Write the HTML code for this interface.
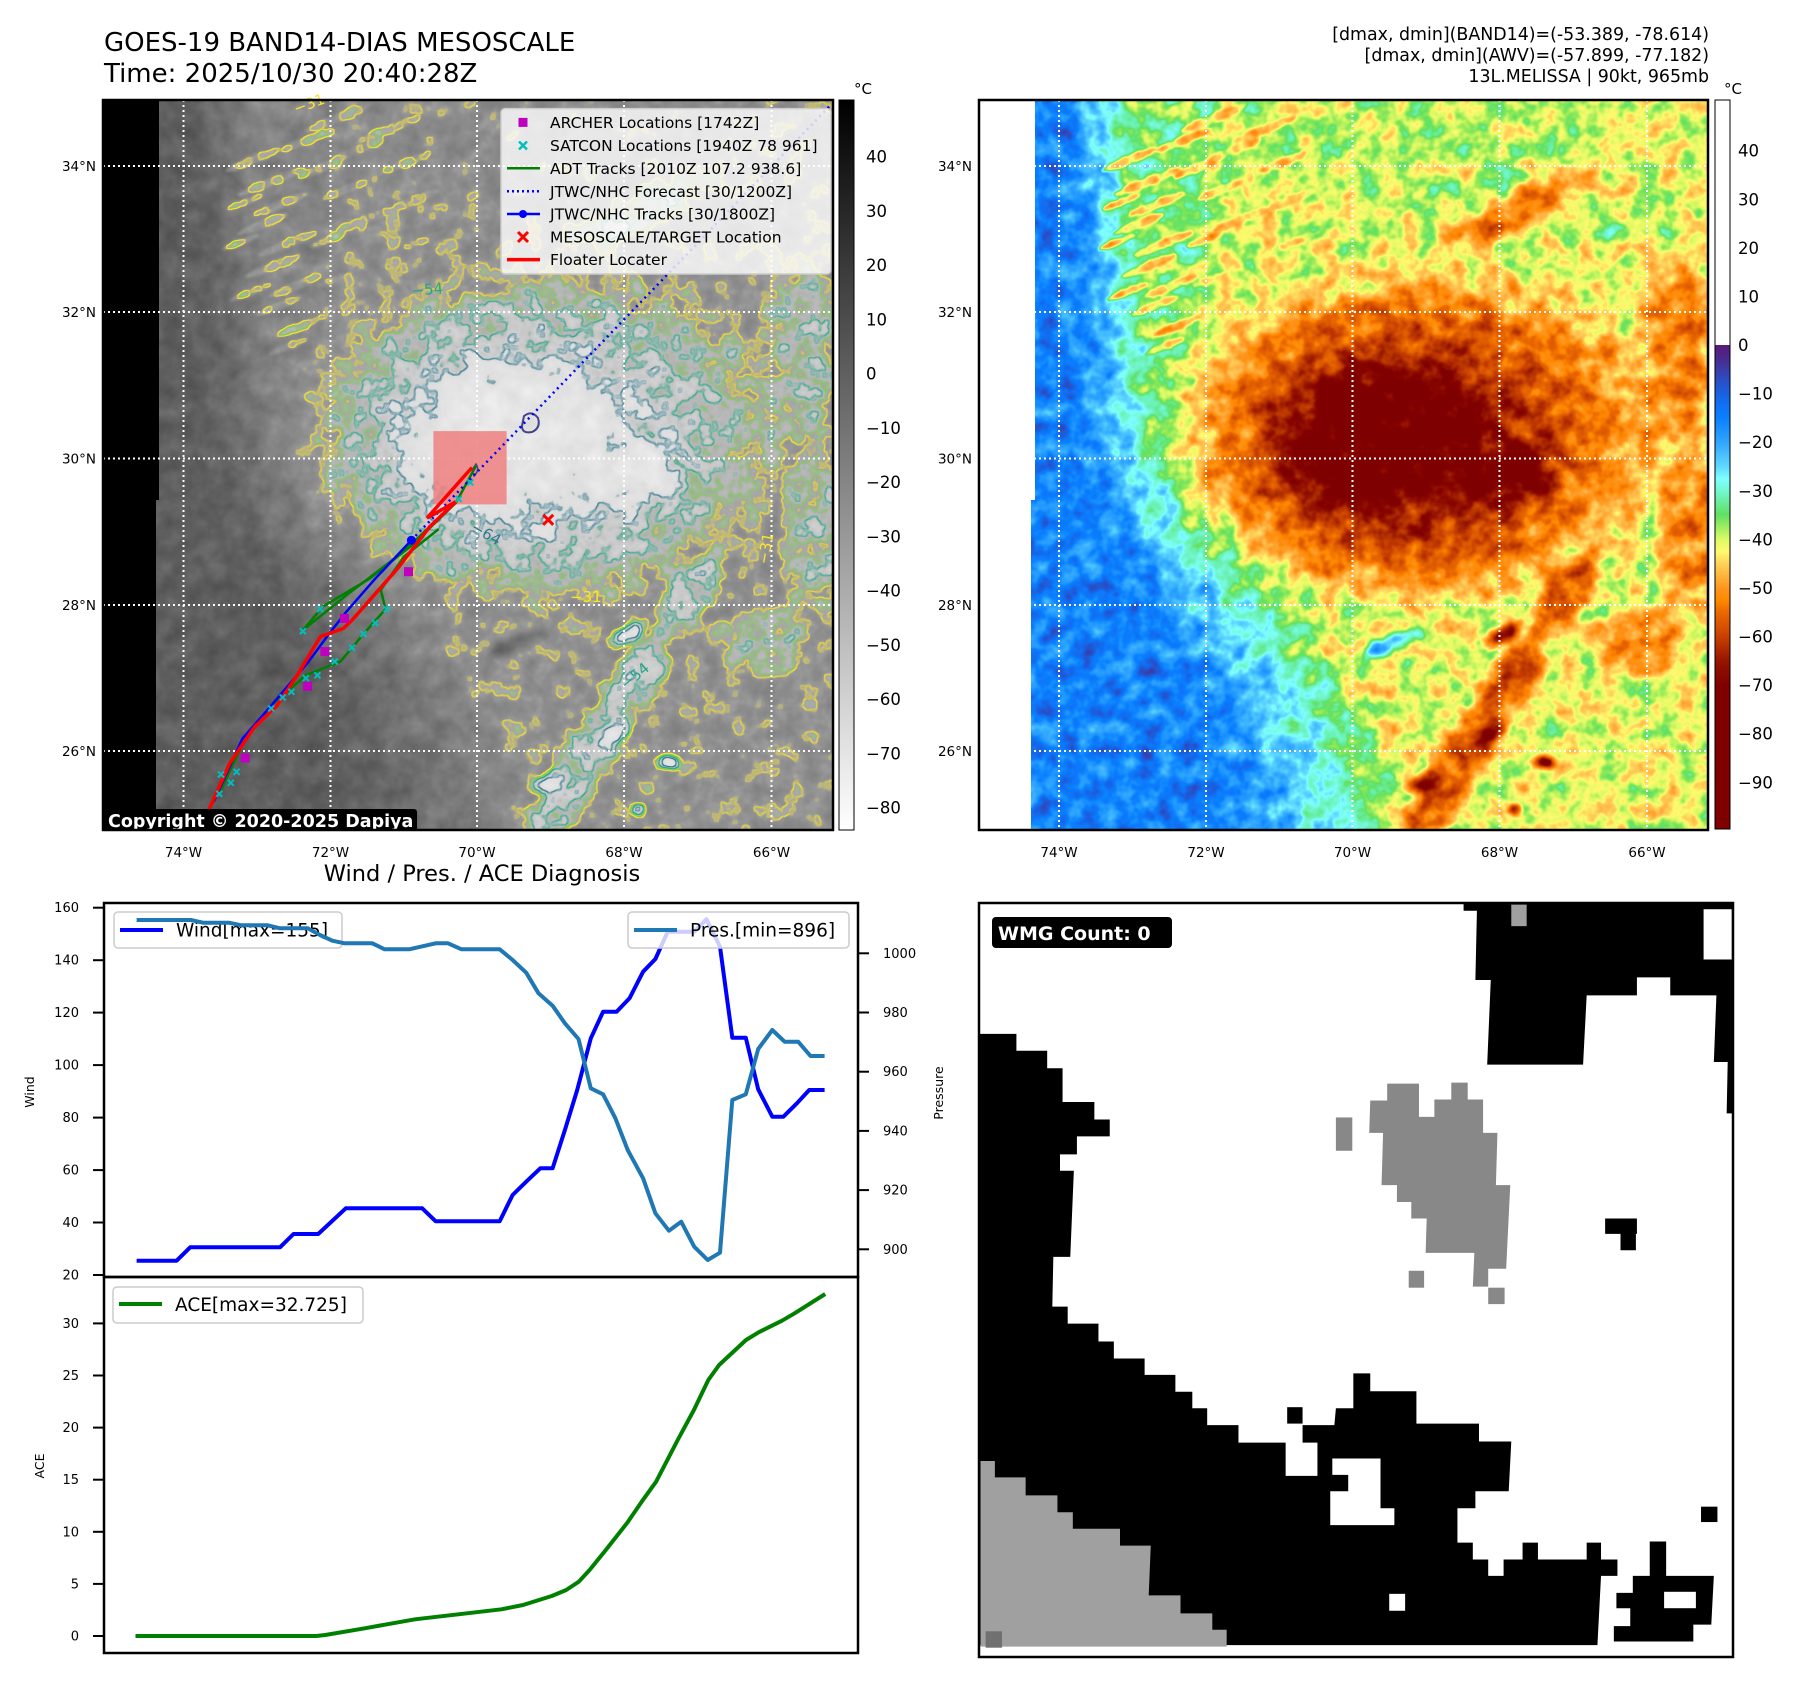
<!DOCTYPE html>
<html><head><meta charset="utf-8"><style>
html,body{margin:0;padding:0;background:#fff;}
svg{display:block;}
text{font-family:"DejaVu Sans","Liberation Sans",sans-serif;}
</style></head><body>
<svg width="1797" height="1690" viewBox="0 0 1797 1690" xmlns="http://www.w3.org/2000/svg">
<defs>
<clipPath id="clipMap" clipPathUnits="userSpaceOnUse"><rect x="0" y="0" width="730" height="730"/></clipPath>
<clipPath id="clipM1abs" clipPathUnits="userSpaceOnUse"><rect x="103" y="100" width="730" height="730"/></clipPath>
<filter id="bl" filterUnits="userSpaceOnUse" x="-80" y="-80" width="900" height="900" color-interpolation-filters="sRGB"><feGaussianBlur stdDeviation="12"/></filter>
<radialGradient id="gRing"><stop offset="0.7" stop-color="#9e9e9e"/><stop offset="1" stop-color="#9e9e9e" stop-opacity="0"/></radialGradient>
<radialGradient id="gDO"><stop offset="0.6" stop-color="#b0b0b0"/><stop offset="1" stop-color="#b0b0b0" stop-opacity="0"/></radialGradient>
<radialGradient id="gRB"><stop offset="0.55" stop-color="#bdbdbd"/><stop offset="1" stop-color="#bdbdbd" stop-opacity="0"/></radialGradient>
<radialGradient id="gDR"><stop offset="0.5" stop-color="#d6d6d6"/><stop offset="1" stop-color="#d6d6d6" stop-opacity="0"/></radialGradient>
<radialGradient id="gLobe"><stop offset="0.5" stop-color="#d1d1d1"/><stop offset="1" stop-color="#d1d1d1" stop-opacity="0"/></radialGradient>
<radialGradient id="gSp"><stop offset="0.4" stop-color="#adadad"/><stop offset="1" stop-color="#adadad" stop-opacity="0"/></radialGradient>
<radialGradient id="gSpD"><stop offset="0.3" stop-color="#c2c2c2"/><stop offset="1" stop-color="#c2c2c2" stop-opacity="0"/></radialGradient>
<radialGradient id="gCr"><stop offset="0.45" stop-color="#9e9e9e"/><stop offset="1" stop-color="#9e9e9e" stop-opacity="0"/></radialGradient>
<radialGradient id="gNE"><stop offset="0.4" stop-color="#a1a1a1"/><stop offset="1" stop-color="#a1a1a1" stop-opacity="0"/></radialGradient>
<radialGradient id="gGr"><stop offset="0.3" stop-color="#757575"/><stop offset="1" stop-color="#757575" stop-opacity="0"/></radialGradient>
<radialGradient id="gBl"><stop offset="0.3" stop-color="#525252"/><stop offset="1" stop-color="#525252" stop-opacity="0"/></radialGradient>

<g id="field">
<g filter="url(#bl)">
<rect x="-60" y="-60" width="850" height="850" fill="#737373"/>
<polygon fill="#838383" points="250,-60 800,-60 800,800 430,800 400,651 360,580 320,505 215,400 200,300 215,200 245,100"/>
<ellipse cx="420" cy="40" rx="200" ry="70" fill="#7d7d7d"/>
<polygon fill="#616161" points="-60,-60 135,-60 150,200 170,350 205,430 275,505 330,580 360,651 390,800 -60,800"/>
<polygon fill="#4f4f4f" points="-60,-60 118,-60 128,200 140,350 170,430 230,505 280,580 310,651 340,800 -60,800"/>
<polygon fill="#404040" points="-60,-60 100,-60 108,200 115,350 140,430 190,505 230,580 262,651 290,800 -60,800"/>
</g>
<ellipse cx="519" cy="82" rx="38" ry="20" fill="url(#gGr)"/>
<ellipse cx="617" cy="132" rx="35" ry="18" fill="url(#gGr)"/>
<ellipse cx="669" cy="104" rx="30" ry="18" fill="url(#gGr)"/>
<ellipse cx="540" cy="110" rx="110" ry="24" transform="rotate(-28 540 110)" fill="url(#gNE)"/>
<ellipse cx="700" cy="250" rx="55" ry="120" fill="url(#gCr)"/>
<ellipse cx="715" cy="430" rx="45" ry="110" fill="url(#gCr)"/>
<ellipse cx="660" cy="540" rx="55" ry="40" fill="url(#gCr)"/>
<ellipse cx="445" cy="335" rx="265" ry="180" fill="url(#gRing)"/>
<ellipse cx="585" cy="495" rx="60" ry="28" transform="rotate(-55 585 495)" fill="url(#gSp)"/>
<ellipse cx="535" cy="578" rx="70" ry="30" transform="rotate(-55 535 578)" fill="url(#gSp)"/>
<ellipse cx="488" cy="650" rx="70" ry="30" transform="rotate(-50 488 650)" fill="url(#gSp)"/>
<ellipse cx="452" cy="712" rx="60" ry="25" transform="rotate(-45 452 712)" fill="url(#gSp)"/>
<ellipse cx="525" cy="535" rx="28" ry="12" transform="rotate(-30 525 535)" fill="url(#gSpD)"/>
<ellipse cx="510" cy="632" rx="30" ry="12" transform="rotate(-30 510 632)" fill="url(#gSpD)"/>
<ellipse cx="450" cy="680" rx="28" ry="14" transform="rotate(-30 450 680)" fill="url(#gSpD)"/>
<ellipse cx="565" cy="662" rx="16" ry="9" fill="url(#gSpD)"/>
<ellipse cx="536" cy="710" rx="10" ry="8" fill="url(#gSpD)"/>
<ellipse cx="410" cy="545" rx="42" ry="12" transform="rotate(-20 410 545)" fill="url(#gBl)"/>
<ellipse cx="430" cy="340" rx="210" ry="155" fill="url(#gDO)"/>
<ellipse cx="430" cy="345" rx="165" ry="120" fill="url(#gRB)"/>
<ellipse cx="395" cy="338" rx="110" ry="85" fill="url(#gDR)"/>
<ellipse cx="460" cy="330" rx="60" ry="60" fill="url(#gLobe)"/>
<ellipse cx="525" cy="372" rx="60" ry="40" fill="url(#gLobe)"/>
<g fill="#949494" opacity="0.85">
<ellipse cx="150" cy="60" rx="30" ry="4.5" transform="rotate(-22 150 60)"/>
<ellipse cx="168" cy="82" rx="36" ry="4.5" transform="rotate(-22 168 82)"/>
<ellipse cx="178" cy="104" rx="30" ry="4.5" transform="rotate(-22 178 104)"/>
<ellipse cx="160" cy="124" rx="28" ry="4.5" transform="rotate(-22 160 124)"/>
<ellipse cx="184" cy="144" rx="32" ry="4.5" transform="rotate(-22 184 144)"/>
<ellipse cx="170" cy="166" rx="30" ry="4.5" transform="rotate(-22 170 166)"/>
<ellipse cx="192" cy="186" rx="28" ry="4.5" transform="rotate(-22 192 186)"/>
<ellipse cx="176" cy="206" rx="25" ry="4" transform="rotate(-22 176 206)"/>
<ellipse cx="198" cy="226" rx="25" ry="4" transform="rotate(-22 198 226)"/>
<ellipse cx="186" cy="246" rx="22" ry="3.5" transform="rotate(-22 186 246)"/>
<ellipse cx="205" cy="40" rx="30" ry="4.5" transform="rotate(-22 205 40)"/>
<ellipse cx="235" cy="18" rx="36" ry="5" transform="rotate(-22 235 18)"/>
<ellipse cx="255" cy="50" rx="30" ry="4.5" transform="rotate(-22 255 50)"/>
<ellipse cx="242" cy="90" rx="25" ry="4.5" transform="rotate(-22 242 90)"/>
<ellipse cx="262" cy="120" rx="30" ry="4.5" transform="rotate(-22 262 120)"/>
<ellipse cx="218" cy="68" rx="25" ry="4.5" transform="rotate(-22 218 68)"/>
<ellipse cx="138" cy="142" rx="20" ry="3.5" transform="rotate(-22 138 142)"/>
<ellipse cx="148" cy="192" rx="22" ry="3.5" transform="rotate(-22 148 192)"/>
<ellipse cx="285" cy="30" rx="35" ry="4.5" transform="rotate(-22 285 30)"/>
<ellipse cx="305" cy="62" rx="25" ry="4.5" transform="rotate(-22 305 62)"/>
<ellipse cx="312" cy="100" rx="25" ry="4.5" transform="rotate(-22 312 100)"/>
<ellipse cx="142" cy="102" rx="20" ry="3.5" transform="rotate(-22 142 102)"/>
<ellipse cx="225" cy="140" rx="20" ry="3.5" transform="rotate(-22 225 140)"/>
<ellipse cx="230" cy="180" rx="18" ry="3.5" transform="rotate(-22 230 180)"/>
<ellipse cx="320" cy="140" rx="22" ry="3.5" transform="rotate(-22 320 140)"/>
</g>
</g>

<filter id="fC" filterUnits="userSpaceOnUse" x="-60" y="-60" width="850" height="850" color-interpolation-filters="sRGB">
<feGaussianBlur in="SourceGraphic" stdDeviation="1.2" result="b"/>
<feTurbulence type="fractalNoise" baseFrequency="0.05" numOctaves="3" seed="5" result="t"/>
<feColorMatrix in="t" type="matrix" values="1 0 0 0 0 1 0 0 0 0 1 0 0 0 0 0 0 0 0 1" result="tn"/>
<feComposite in="b" in2="tn" operator="arithmetic" k1="0" k2="1" k3="0.25" k4="-0.125" result="f"/>
<feComponentTransfer in="f">
<feFuncR type="table" tableValues="1 1 1 1 .35 .29 .24 .16 .10 .06 .04 .12 .19 .27 .38 .50 .45 .41 .38 .59 .86 1 1 1 1 1 .92 .86 .78 .69 .59 .53 .50 .50 .50 .50 .50 .50 .50 .50 .50"/>
<feFuncG type="table" tableValues="1 1 1 1 .10 .16 .24 .31 .38 .45 .50 .59 .65 .75 .85 1 .97 .94 .88 .92 .98 .98 .82 .71 .59 .53 .41 .35 .25 .18 .08 .02 0 0 0 0 0 0 0 0 0"/>
<feFuncB type="table" tableValues="1 1 1 1 .47 .55 .65 .78 .88 .96 1 1 1 1 1 1 .82 .67 .38 .35 .39 .43 .35 .27 .12 0 0 0 0 0 0 0 0 0 0 0 0 0 0 0 0"/>
</feComponentTransfer>
</filter>

<filter id="fG" filterUnits="userSpaceOnUse" x="-60" y="-60" width="850" height="850" color-interpolation-filters="sRGB">
<feGaussianBlur in="SourceGraphic" stdDeviation="1.2" result="b"/>
<feTurbulence type="fractalNoise" baseFrequency="0.05" numOctaves="3" seed="5" result="t"/>
<feColorMatrix in="t" type="matrix" values="1 0 0 0 0 1 0 0 0 0 1 0 0 0 0 0 0 0 0 1" result="tn"/>
<feComposite in="b" in2="tn" operator="arithmetic" k1="0" k2="1" k3="0.25" k4="-0.125" result="f"/>
<feComponentTransfer in="f" result="g">
<feFuncR type="table" tableValues="0.22 0.37 0.56 0.87 0.97"/>
<feFuncG type="table" tableValues="0.22 0.37 0.56 0.87 0.97"/>
<feFuncB type="table" tableValues="0.22 0.37 0.56 0.87 0.97"/>
</feComponentTransfer>
<feColorMatrix in="f" type="matrix" values="0 0 0 0 0 0 0 0 0 0 0 0 0 0 0 1 0 0 0 0" result="fa"/>
<feComponentTransfer in="fa" result="m1"><feFuncA type="linear" slope="40" intercept="-21.8"/></feComponentTransfer>
<feMorphology in="m1" operator="dilate" radius="1" result="d1"/>
<feComposite in="d1" in2="m1" operator="out" result="e1"/>
<feFlood flood-color="#fde725"/>
<feComposite in2="e1" operator="in" result="l1"/>
<feComponentTransfer in="fa" result="m2"><feFuncA type="linear" slope="40" intercept="-23.6"/></feComponentTransfer>
<feMorphology in="m2" operator="dilate" radius="1" result="d2"/>
<feComposite in="d2" in2="m2" operator="out" result="e2"/>
<feFlood flood-color="#7ad151"/>
<feComposite in2="e2" operator="in" result="l2"/>
<feComponentTransfer in="fa" result="m3"><feFuncA type="linear" slope="40" intercept="-25.8"/></feComponentTransfer>
<feMorphology in="m3" operator="dilate" radius="1" result="d3"/>
<feComposite in="d3" in2="m3" operator="out" result="e3"/>
<feFlood flood-color="#22a884"/>
<feComposite in2="e3" operator="in" result="l3"/>
<feComponentTransfer in="fa" result="m4"><feFuncA type="linear" slope="40" intercept="-28.8"/></feComponentTransfer>
<feMorphology in="m4" operator="dilate" radius="1" result="d4"/>
<feComposite in="d4" in2="m4" operator="out" result="e4"/>
<feFlood flood-color="#2a788e"/>
<feComposite in2="e4" operator="in" result="l4"/>
<feMerge><feMergeNode in="g"/><feMergeNode in="l1"/><feMergeNode in="l2"/><feMergeNode in="l3"/><feMergeNode in="l4"/></feMerge>
</filter>

<linearGradient id="cb1" x1="0" y1="0" x2="0" y2="1"><stop offset="0" stop-color="#000"/><stop offset="1" stop-color="#fff"/></linearGradient>
<linearGradient id="cb2" x1="0" y1="0" x2="0" y2="1">
<stop offset="0" stop-color="#5a1a78"/><stop offset="0.025" stop-color="#4b288c"/><stop offset="0.05" stop-color="#3c3ca5"/><stop offset="0.075" stop-color="#2850c8"/><stop offset="0.1" stop-color="#1a60e0"/><stop offset="0.126" stop-color="#0f73f5"/><stop offset="0.151" stop-color="#0a80ff"/><stop offset="0.201" stop-color="#30a5ff"/><stop offset="0.251" stop-color="#60d8ff"/><stop offset="0.276" stop-color="#80ffff"/><stop offset="0.301" stop-color="#73f8d2"/><stop offset="0.351" stop-color="#60e060"/><stop offset="0.402" stop-color="#dcfa64"/><stop offset="0.427" stop-color="#fffa6e"/><stop offset="0.452" stop-color="#ffd25a"/><stop offset="0.502" stop-color="#ff961e"/><stop offset="0.527" stop-color="#ff8800"/><stop offset="0.552" stop-color="#eb6900"/><stop offset="0.602" stop-color="#c84100"/><stop offset="0.653" stop-color="#961400"/><stop offset="0.703" stop-color="#800000"/><stop offset="1" stop-color="#800000"/>
</linearGradient>
</defs>

<rect x="0" y="0" width="1797" height="1690" fill="#fff"/>

<!-- Titles -->
<text x="104" y="51" font-size="26" fill="#000">GOES-19 BAND14-DIAS MESOSCALE</text>
<text x="104" y="82" font-size="26" fill="#000">Time: 2025/10/30 20:40:28Z</text>
<g font-size="17.4" fill="#000" text-anchor="end">
<text x="1709" y="40">[dmax, dmin](BAND14)=(-53.389, -78.614)</text>
<text x="1709" y="61">[dmax, dmin](AWV)=(-57.899, -77.182)</text>
<text x="1709" y="82">13L.MELISSA | 90kt, 965mb</text>
</g>

<!-- MAP 1 -->
<g transform="translate(103 100)">
<g clip-path="url(#clipMap)">
<g filter="url(#fG)"><use href="#field"/></g>
<polygon points="0,0 56,0 56,400 53,400 53,730 0,730" fill="#000"/>
</g>
</g>
<g stroke="#fff" stroke-width="2" stroke-dasharray="2 3" fill="none">
<line x1="103" y1="166" x2="833" y2="166"/><line x1="103" y1="312" x2="833" y2="312"/><line x1="103" y1="458.5" x2="833" y2="458.5"/><line x1="103" y1="605" x2="833" y2="605"/><line x1="103" y1="751" x2="833" y2="751"/>
<line x1="183.5" y1="100" x2="183.5" y2="830"/><line x1="330.5" y1="100" x2="330.5" y2="830"/><line x1="477" y1="100" x2="477" y2="830"/><line x1="624" y1="100" x2="624" y2="830"/><line x1="771.5" y1="100" x2="771.5" y2="830"/>
</g>
<g font-size="15" >
<text x="412" y="296" fill="#22a884" transform="rotate(-5 412 296)">−54</text>
<text x="470" y="530" fill="#2a788e" transform="rotate(30 470 530)">−64</text>
<text x="570" y="602" fill="#fde725">−31</text>
<text x="296" y="114" fill="#fde725" transform="rotate(-20 296 114)">−31</text>
<text x="768" y="565" fill="#fde725" transform="rotate(-80 768 565)">−31</text>
<text x="626" y="690" fill="#22a884" transform="rotate(-40 626 690)">−54</text>
</g>
<g clip-path="url(#clipM1abs)">
<path d="M524,416 q8,-6 14,2 q3,10 -6,14 q-10,2 -10,-6 z" fill="none" stroke="#414487" stroke-width="2"/>
<rect x="433.4" y="431.1" width="73.2" height="73.3" fill="#f08080" opacity="0.85"/>
<path d="M472,470 l4,-6 q4,6 -2,12 z" fill="none" stroke="#414487" stroke-width="1.5"/>
<g fill="none" stroke="#008000" stroke-width="2.5">
<polyline points="302.9,630.1 323.1,606.4 369.3,578.8 411.4,545.8 455.9,502.8 476,465.8"/>
<polyline points="302.9,630.1 346.2,595.4 403.9,551.3 438.6,518.2"/>
<polyline points="219.3,793.8 242.4,744.2 271.2,705.6 305.8,675.3 340.5,661.5 363.5,634 385.5,609.2 380.8,589.9 403.9,556.8 438.6,529.2"/>
</g>
<polyline points="411.4,540.2 831,104.7" fill="none" stroke="#0000ff" stroke-width="2.5" stroke-dasharray="2 4"/>
<polyline points="213.5,802.1 242.4,738.7 271.2,705.6 308.7,661.5 328.9,634 346.2,611.9 375.1,578.8 411.4,540.2" fill="none" stroke="#0000ff" stroke-width="2.5"/>
<circle cx="411.4" cy="540.2" r="4.5" fill="#0000ff"/>
<g fill="none" stroke="#ff0000" stroke-width="3.5">
<polyline points="205,820 210.6,806 229.7,763.5 253.9,727.7 277,705.6 297.2,675.3 320.3,636.7 343.3,628.5 352,620.2 398.2,567.8 429.9,526.5 455.9,501.7 427,518 472,467.5"/>
</g>
<g stroke="#00bfbf" stroke-width="2">
<path d="M218,771.5l6,6m0,-6l-6,6 M233.6,768.8l6,6m0,-6l-6,6 M216.3,790.8l6,6m0,-6l-6,6 M227.8,779.8l6,6m0,-6l-6,6 M268.2,705.4l6,6m0,-6l-6,6 M279.7,694.4l6,6m0,-6l-6,6 M288.4,688.8l6,6m0,-6l-6,6 M302.8,675.1l6,6m0,-6l-6,6 M314.4,672.3l6,6m0,-6l-6,6 M331.7,658.5l6,6m0,-6l-6,6 M349,644.7l6,6m0,-6l-6,6 M360.5,631l6,6m0,-6l-6,6 M372.1,619.9l6,6m0,-6l-6,6 M383.6,606.2l6,6m0,-6l-6,6 M299.9,628.2l6,6m0,-6l-6,6 M317.3,606.2l6,6m0,-6l-6,6 M455.7,495.9l6,6m0,-6l-6,6 M467.3,479.4l6,6m0,-6l-6,6"/>
</g>
<g fill="#bf00bf">
<rect x="404" y="567.2" width="9" height="9"/><rect x="340" y="614" width="9" height="9"/><rect x="320.4" y="647.1" width="9" height="9"/><rect x="303.1" y="681.8" width="9" height="9"/><rect x="240.7" y="753.5" width="9" height="9"/>
</g>
<path d="M543.2,514.8l10,10m0,-10l-10,10" stroke="#ff0000" stroke-width="3"/>
</g>
<!-- legend map1 -->
<rect x="501" y="108.6" width="330" height="165.4" rx="4" fill="#fff" fill-opacity="0.8" stroke="#cccccc" stroke-width="1.5"/>
<rect x="518.5" y="117.9" width="9" height="9" fill="#bf00bf"/>
<path d="M519,141.5l8,8m0,-8l-8,8" stroke="#00bfbf" stroke-width="2.5"/>
<line x1="507" y1="168.3" x2="540" y2="168.3" stroke="#008000" stroke-width="2.5"/>
<line x1="507" y1="191.2" x2="540" y2="191.2" stroke="#0000ff" stroke-width="2.5" stroke-dasharray="2 3"/>
<line x1="507" y1="214" x2="540" y2="214" stroke="#0000ff" stroke-width="2.5"/>
<circle cx="523" cy="214" r="4" fill="#0000ff"/>
<path d="M518,232l10,10m0,-10l-10,10" stroke="#ff0000" stroke-width="3"/>
<line x1="507" y1="259.6" x2="540" y2="259.6" stroke="#ff0000" stroke-width="3.5"/>
<g font-size="15.5" fill="#000">
<text x="550" y="128">ARCHER Locations [1742Z]</text>
<text x="550" y="151">SATCON Locations [1940Z 78 961]</text>
<text x="550" y="174">ADT Tracks [2010Z 107.2 938.6]</text>
<text x="550" y="197">JTWC/NHC Forecast [30/1200Z]</text>
<text x="550" y="219.5">JTWC/NHC Tracks [30/1800Z]</text>
<text x="550" y="242.5">MESOSCALE/TARGET Location</text>
<text x="550" y="265">Floater Locater</text>
</g>
<!-- copyright -->
<rect x="104" y="809" width="313" height="22" rx="3" fill="#000"/>
<text x="108" y="827" font-size="17.5" font-weight="bold" fill="#fff">Copyright © 2020-2025 Dapiya</text>
<rect x="103" y="100" width="730" height="730" fill="none" stroke="#000" stroke-width="2.5"/>

<!-- colorbar 1 -->
<rect x="839" y="100" width="15" height="730" fill="url(#cb1)" stroke="#000" stroke-width="1"/>
<text x="854" y="94" font-size="15">°C</text>
<g font-size="16.5" fill="#000">
<text x="866" y="162.6">40</text><text x="866" y="216.9">30</text><text x="866" y="271.1">20</text><text x="866" y="325.4">10</text><text x="866" y="379.6">0</text><text x="866" y="433.9">−10</text><text x="866" y="488.1">−20</text><text x="866" y="542.4">−30</text><text x="866" y="596.6">−40</text><text x="866" y="650.9">−50</text><text x="866" y="705.1">−60</text><text x="866" y="759.4">−70</text><text x="866" y="813.6">−80</text>
</g>

<!-- map ticks labels -->
<g font-size="13.5" fill="#000">
<g text-anchor="end">
<text x="96" y="171">34°N</text><text x="96" y="317">32°N</text><text x="96" y="463.5">30°N</text><text x="96" y="610">28°N</text><text x="96" y="756">26°N</text>
<text x="972" y="171">34°N</text><text x="972" y="317">32°N</text><text x="972" y="463.5">30°N</text><text x="972" y="610">28°N</text><text x="972" y="756">26°N</text>
</g>
<g text-anchor="middle">
<text x="183.5" y="857">74°W</text><text x="330.5" y="857">72°W</text><text x="477" y="857">70°W</text><text x="624" y="857">68°W</text><text x="771.5" y="857">66°W</text>
<text x="1059" y="857">74°W</text><text x="1206" y="857">72°W</text><text x="1352.5" y="857">70°W</text><text x="1499.5" y="857">68°W</text><text x="1647" y="857">66°W</text>
</g>
</g>

<!-- MAP 2 -->
<g transform="translate(979 100)">
<g clip-path="url(#clipMap)">
<g filter="url(#fC)"><use href="#field"/></g>
<polygon points="0,0 56,0 56,400 52,400 52,730 0,730" fill="#fff"/>
</g>
</g>
<g stroke="#fff" stroke-width="2" stroke-dasharray="2 3" fill="none">
<line x1="979" y1="166" x2="1709" y2="166"/><line x1="979" y1="312" x2="1709" y2="312"/><line x1="979" y1="458.5" x2="1709" y2="458.5"/><line x1="979" y1="605" x2="1709" y2="605"/><line x1="979" y1="751" x2="1709" y2="751"/>
<line x1="1059" y1="100" x2="1059" y2="830"/><line x1="1206" y1="100" x2="1206" y2="830"/><line x1="1352.5" y1="100" x2="1352.5" y2="830"/><line x1="1499.5" y1="100" x2="1499.5" y2="830"/><line x1="1647" y1="100" x2="1647" y2="830"/>
</g>
<rect x="979" y="100" width="729" height="730" fill="none" stroke="#000" stroke-width="2.5"/>

<!-- colorbar 2 -->
<rect x="1715" y="100" width="15" height="245" fill="#fff"/>
<rect x="1715" y="345" width="15" height="484" fill="url(#cb2)"/>
<rect x="1715" y="100" width="15" height="729" fill="none" stroke="#000" stroke-width="1"/>
<text x="1724" y="94" font-size="15">°C</text>
<g font-size="16.5" fill="#000">
<text x="1738" y="156.7">40</text><text x="1738" y="205.3">30</text><text x="1738" y="253.9">20</text><text x="1738" y="302.4">10</text><text x="1738" y="351">0</text><text x="1738" y="399.6">−10</text><text x="1738" y="448.2">−20</text><text x="1738" y="496.8">−30</text><text x="1738" y="545.3">−40</text><text x="1738" y="593.9">−50</text><text x="1738" y="642.5">−60</text><text x="1738" y="691.1">−70</text><text x="1738" y="739.7">−80</text><text x="1738" y="788.3">−90</text>
</g>

<!-- WIND / PRES panel -->
<text x="482" y="881" font-size="22.5" text-anchor="middle">Wind / Pres. / ACE Diagnosis</text>
<polyline fill="none" stroke="#0000ff" stroke-width="4" stroke-linejoin="round" points="136.6,1260.7 176.6,1260.7 190.2,1247.3 280,1247.3 293.5,1234 318.2,1234 345.8,1208.3 422.2,1208.3 435.7,1221.3 499.7,1221.3 512.6,1195 526.2,1181.7 540.3,1168.3 552.6,1168.3 564.9,1130 577.2,1090 590.8,1038.3 603.1,1011.7 616.6,1011.7 629.5,998.3 643.1,971.7 655.4,959 667.7,931.7 694.2,931.7 706.5,919.3 720,946.7 732.3,1037.7 745.8,1037.7 758.2,1089.3 772.3,1116.7 783.4,1116.7 796.9,1103.3 809.2,1090 824.6,1090"/>
<rect x="114" y="912" width="228" height="36" rx="4" fill="#fff" fill-opacity="0.8" stroke="#cccccc" stroke-width="1.5"/>
<line x1="120" y1="930" x2="163" y2="930" stroke="#0000ff" stroke-width="4"/>
<text x="176" y="936.5" font-size="18.5">Wind[max=155]</text>
<polyline fill="none" stroke="#1f77b4" stroke-width="4" stroke-linejoin="round" points="136.6,920 190.8,920 203.1,922.7 228.9,922.7 241.2,925.3 267.7,925.3 280,928.3 307.7,928.3 320,935 332.3,940.7 344.6,943.3 372.3,943.3 384.6,949.3 409.2,949.3 435.7,943.3 448,943.3 461.5,949.3 499.7,949.3 512.6,960 526.2,972.7 538.5,993.3 552.6,1005.7 564.9,1023.3 578.5,1039 590.8,1088.3 603.1,1094.3 615.4,1118.3 627.7,1150 643.1,1178.3 655.4,1213.3 668.9,1230.7 681.2,1221.7 694.2,1246.7 707.7,1260 720,1252.7 732.3,1100 745.8,1094.3 758.2,1049 772.3,1030 784.6,1041.7 798.2,1041.7 810.5,1056 824.6,1056"/>
<rect x="628" y="912" width="221" height="36" rx="4" fill="#fff" fill-opacity="0.8" stroke="#cccccc" stroke-width="1.5"/>
<line x1="634" y1="930" x2="677" y2="930" stroke="#1f77b4" stroke-width="4"/>
<text x="690" y="936.5" font-size="18.5">Pres.[min=896]</text>
<rect x="104" y="903" width="754" height="374" fill="none" stroke="#000" stroke-width="2.5"/>
<g stroke="#000" stroke-width="2">
<line x1="93" y1="907.7" x2="104" y2="907.7"/><line x1="93" y1="960.2" x2="104" y2="960.2"/><line x1="93" y1="1012.6" x2="104" y2="1012.6"/><line x1="93" y1="1065.1" x2="104" y2="1065.1"/><line x1="93" y1="1117.6" x2="104" y2="1117.6"/><line x1="93" y1="1170.1" x2="104" y2="1170.1"/><line x1="93" y1="1222.5" x2="104" y2="1222.5"/><line x1="93" y1="1275" x2="104" y2="1275"/>
<line x1="858" y1="953.3" x2="869" y2="953.3"/><line x1="858" y1="1012.5" x2="869" y2="1012.5"/><line x1="858" y1="1071.7" x2="869" y2="1071.7"/><line x1="858" y1="1130.9" x2="869" y2="1130.9"/><line x1="858" y1="1190.1" x2="869" y2="1190.1"/><line x1="858" y1="1249.3" x2="869" y2="1249.3"/>
</g>
<g font-size="13" fill="#000">
<g text-anchor="end">
<text x="79" y="912.2">160</text><text x="79" y="964.7">140</text><text x="79" y="1017.1">120</text><text x="79" y="1069.6">100</text><text x="79" y="1122.1">80</text><text x="79" y="1174.6">60</text><text x="79" y="1227">40</text><text x="79" y="1279.5">20</text>
</g>
<text x="883" y="957.8">1000</text><text x="883" y="1017">980</text><text x="883" y="1076.2">960</text><text x="883" y="1135.4">940</text><text x="883" y="1194.6">920</text><text x="883" y="1253.8">900</text>
</g>
<text font-size="12.5" text-anchor="middle" transform="translate(34 1092) rotate(-90)">Wind</text>
<text font-size="12.5" text-anchor="middle" transform="translate(943 1093) rotate(-90)">Pressure</text>

<!-- ACE panel -->
<polyline fill="none" stroke="#008000" stroke-width="4" stroke-linejoin="round" points="135.5,1636 316.2,1636 325.2,1635 364.7,1628.3 415.1,1619.3 458.3,1614.3 501.4,1609.3 523,1605 551.8,1596 566.2,1590 578.8,1581.7 589.6,1570 605.8,1550 627.3,1522.7 641.7,1501.7 656.1,1481.7 677.7,1440 693.9,1410 708.3,1380 719.1,1365 746,1340 758.6,1332.3 782,1320.7 794.6,1313.3 825.2,1294"/>
<rect x="113" y="1287" width="250" height="36" rx="4" fill="#fff" fill-opacity="0.8" stroke="#cccccc" stroke-width="1.5"/>
<line x1="119" y1="1304" x2="162" y2="1304" stroke="#008000" stroke-width="4"/>
<text x="175" y="1311" font-size="18.5">ACE[max=32.725]</text>
<rect x="104" y="1277" width="754" height="376" fill="none" stroke="#000" stroke-width="2.5"/>
<g stroke="#000" stroke-width="2">
<line x1="93" y1="1636" x2="104" y2="1636"/><line x1="93" y1="1583.9" x2="104" y2="1583.9"/><line x1="93" y1="1531.8" x2="104" y2="1531.8"/><line x1="93" y1="1479.7" x2="104" y2="1479.7"/><line x1="93" y1="1427.6" x2="104" y2="1427.6"/><line x1="93" y1="1375.5" x2="104" y2="1375.5"/><line x1="93" y1="1323.4" x2="104" y2="1323.4"/>
</g>
<g font-size="13" fill="#000" text-anchor="end">
<text x="79" y="1640.5">0</text><text x="79" y="1588.4">5</text><text x="79" y="1536.3">10</text><text x="79" y="1484.2">15</text><text x="79" y="1432.1">20</text><text x="79" y="1380">25</text><text x="79" y="1327.9">30</text>
</g>
<text font-size="12.5" text-anchor="middle" transform="translate(44 1466) rotate(-90)">ACE</text>

<!-- WMG panel -->
<rect x="979" y="903" width="754" height="754" fill="#fff"/>
<g transform="translate(960 880) scale(0.51282)">
<path fill="#000" d="M982,45 H1508 V455 H1495 L1497,355 H1470 L1475,225 H1385 V190 H1320 V225 H1222 L1215,360 H1028 L1035,195 H1005 L1008,60 H982 Z"/>
<rect x="1450" y="57" width="55" height="98" fill="#fff"/>
<rect x="1075" y="48" width="30" height="42" fill="#a0a0a0"/>
<path fill="#000" d="M37,300 H110 V333 H170 V367 H200 V433 H262 V467 H292 V500 H228 V535 H195 V567 H222 L215,735 H182 L180,832 H210 V865 H270 V900 H300 V933 H360 V965 H420 V998 H453 V1030 H482 V1063 H543 V1097 H635 V1162 H697 V1097 H668 V1063 H730 L733,1030 H767 V962 H800 V997 H890 V1060 H1012 V1095 H1075 L1070,1192 H1005 V1225 H970 V1292 H1000 V1325 H1030 V1357 H1060 V1325 H1097 V1292 H1127 V1325 H1222 V1292 H1250 V1325 H1282 V1357 H1250 L1243,1492 H37 Z"/>
<rect x="638" y="1028" width="30" height="32" fill="#000"/>
<path fill="#fff" d="M726,1128 H820 V1225 H847 V1258 H722 V1192 H757 V1160 H726 Z"/>
<rect x="837" y="1392" width="31" height="33" fill="#fff"/>
<path fill="#000" d="M1258,660 H1320 V690 H1318 V722 H1288 V690 H1258 Z"/>
<rect x="1445" y="1222" width="32" height="30" fill="#000"/>
<path fill="#000" d="M1345,1290 H1377 V1357 H1470 L1465,1452 H1430 V1485 H1275 V1455 H1307 V1420 H1280 V1390 H1312 V1357 H1345 Z"/>
<rect x="1373" y="1388" width="62" height="32" fill="#fff"/>
<path fill="#a0a0a0" d="M40,1133 H68 V1165 H128 V1200 H190 V1233 H220 V1265 H312 V1298 H372 L368,1395 H430 V1430 H492 V1462 H520 V1495 H40 Z"/>
<rect x="50" y="1465" width="32" height="32" fill="#707070"/>
<path fill="#888888" d="M833,397 H895 V462 H925 V428 H958 V395 H990 V428 H1020 V493 H1048 L1045,595 H1073 L1065,758 H1030 V793 H1000 L1003,727 H908 L910,660 H880 V628 H852 V595 H822 L825,493 H798 L800,430 H833 Z"/>
<rect x="733" y="463" width="32" height="65" fill="#888888"/>
<rect x="875" y="762" width="30" height="33" fill="#888888"/>
<rect x="1030" y="795" width="32" height="32" fill="#888888"/>
</g>
<rect x="979" y="903" width="754" height="754" fill="none" stroke="#000" stroke-width="2.5"/>
<rect x="992" y="917" width="180" height="31" rx="4" fill="#000"/>
<text x="998" y="940" font-size="19" font-weight="bold" fill="#fff">WMG Count: 0</text>
</svg>
</body></html>
